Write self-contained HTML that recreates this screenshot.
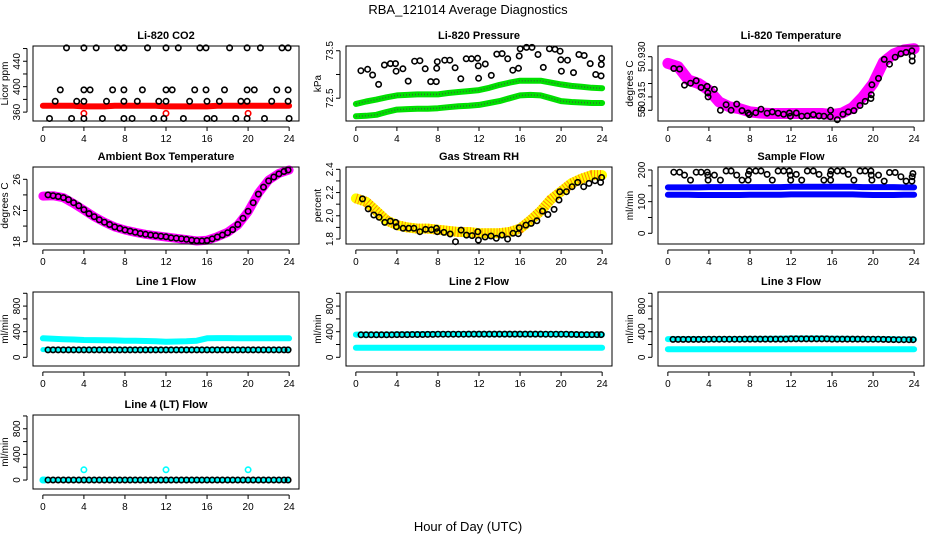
<!DOCTYPE html>
<html><head><meta charset="utf-8"><style>
html,body{margin:0;padding:0;background:#fff;}
svg{display:block;font-family:"Liberation Sans",sans-serif;}
</style></head><body>
<svg id="c" width="936" height="540" viewBox="0 0 936 540" xmlns="http://www.w3.org/2000/svg">
<text x="468" y="14" text-anchor="middle" font-size="13">RBA_121014  Average Diagnostics</text>
<text x="468" y="531" text-anchor="middle" font-size="13">Hour of Day (UTC)</text>
</svg>
<script>
// ---------- data ----------
const xTicks=[0,4,8,12,16,20,24];
const hrs=[0,1,2,3,4,5,6,7,8,9,10,11,12,13,14,15,16,17,18,19,20,21,22,23,24];
const half=[0.5,1,1.5,2,2.5,3,3.5,4,4.5,5,5.5,6,6.5,7,7.5,8,8.5,9,9.5,10,10.5,11,11.5,12,12.5,13,13.5,14,14.5,15,15.5,16,16.5,17,17.5,18,18.5,19,19.5,20,20.5,21,21.5,22,22.5,23,23.5,23.9];

// CO2
const co2H=[2.3,4.0,5.2,7.3,7.9,10.2,12.0,13.2,15.3,15.9,18.2,19.9,21.2,23.3,23.9, 1.7,4.0,4.6,6.8,7.9,9.7,12.0,12.6,14.8,15.9,17.7,19.9,20.6,22.8,23.9, 1.2,3.3,4.0,6.2,7.9,9.2,11.3,12.0,14.3,16.0,17.2,19.3,19.9,22.3,23.9, 0.65,2.8,4.0,5.8,7.9,8.7,10.8,11.8,13.7,16,16.7,18.8,19.9,21.6,24];
const co2V=[461,461,461,461,461,461,461,461,461,461,461,461,461,461,461, 395,395,395,395,395,395,395,395,395,395,395,395,395,395,395, 377,377,377,377,377,377,377,377,377,377,377,377,377,377,377, 350,350,350,350,350,350,350,350,350,350,350,350,350,350,350];
const co2Red=[370,370,370,370,369,369,369,370,370,370,370,370,369,369,369,369,369,370,370,370,370,370,370,370,370];
const co2OutH=[4,12,20];
const co2OutV=[358,358,358];

// Pressure
const prH=[0.49,1.14,1.63,2.22,2.78,3.37,3.86,3.92,4.58,5.10,5.72,6.24,6.76,7.29,7.84,7.88,7.94,8.66,9.15,9.67,10.23,10.75,11.27,11.86,11.93,11.96,12.61,13.20,13.73,14.25,14.80,15.29,15.85,15.92,16.01,16.63,17.16,17.75,18.27,18.86,19.41,19.90,19.97,20.03,20.62,21.21,21.73,22.25,22.84,23.37,23.9,23.92,23.95];
const prV=[73.08,73.11,72.99,72.79,73.20,73.23,73.23,73.07,73.12,72.86,73.28,73.29,73.12,72.85,72.85,73.13,73.27,73.30,73.30,73.14,72.91,73.33,73.33,73.34,73.18,72.92,73.22,72.98,73.43,73.44,73.33,73.09,73.13,73.39,73.54,73.57,73.57,73.42,73.15,73.54,73.53,73.49,73.31,73.07,73.30,73.04,73.42,73.40,73.23,73.00,72.97,73.21,73.34];
const prUp=[72.38,72.43,72.47,72.52,72.56,72.57,72.58,72.58,72.58,72.61,72.63,72.65,72.67,72.72,72.78,72.83,72.87,72.87,72.87,72.83,72.79,72.76,72.74,72.72,72.71];
const prLo=[72.12,72.13,72.15,72.21,72.26,72.27,72.28,72.28,72.29,72.31,72.33,72.34,72.36,72.40,72.44,72.50,72.56,72.57,72.56,72.50,72.44,72.42,72.41,72.40,72.40];

// Li-820 temperature
const ltH=[0.58,1.14,1.62,2.21,2.76,3.24,3.83,3.89,3.92,4.54,5.12,5.68,6.16,6.71,7.23,7.82,7.95,8.56,9.08,9.67,10.18,10.74,11.29,11.84,11.94,12.52,13.04,13.59,14.17,14.73,15.21,15.86,15.83,16.51,17.06,17.58,18.13,18.72,19.23,19.79,19.82,19.88,20.53,21.08,21.60,22.15,22.71,23.22,23.78,23.81,23.81];
const ltV=[50.9256,50.9254,50.9194,50.9201,50.9210,50.9185,50.9189,50.9165,50.9150,50.9178,50.9100,50.9121,50.9100,50.9123,50.9099,50.9090,50.9084,50.9091,50.9104,50.9089,50.9094,50.9089,50.9085,50.9090,50.9078,50.9090,50.9078,50.9079,50.9084,50.9079,50.9078,50.9100,50.9076,50.9065,50.9085,50.9094,50.9099,50.9118,50.9133,50.9144,50.9158,50.9195,50.9219,50.9290,50.9272,50.9298,50.9311,50.9316,50.9322,50.9302,50.9284];
const ltBand=[50.9275,50.9263,50.9213,50.9200,50.9175,50.9131,50.9113,50.9106,50.9094,50.9090,50.9088,50.9088,50.9088,50.9088,50.9088,50.9088,50.9084,50.9090,50.9110,50.9150,50.9200,50.9280,50.9310,50.9325,50.9330];

// Ambient
const ambBand=[23.85,23.9,23.64,22.9,22.06,21.2,20.5,19.9,19.5,19.2,18.94,18.77,18.6,18.43,18.26,18.09,18.17,18.64,19.2,20.14,21.85,24.2,25.9,26.76,27.2];
const ambV=[24.0,23.9,23.8,23.65,23.4,23.0,22.6,22.1,21.6,21.2,20.8,20.5,20.2,19.9,19.7,19.5,19.35,19.2,19.05,18.95,18.85,18.78,18.7,18.62,18.5,18.45,18.38,18.3,18.2,18.12,18.1,18.15,18.35,18.6,18.85,19.15,19.55,20.2,21.0,21.9,23.0,24.1,25.0,25.8,26.3,26.7,27.0,27.2];

// RH
const rhH=[0.65,1.2,1.75,2.27,2.82,3.37,3.88,3.95,4.6,5.15,5.66,6.24,6.8,7.35,7.86,7.93,8.58,9.19,9.71,10.26,10.78,11.33,11.88,11.94,12.59,13.17,13.69,14.24,14.79,15.31,15.83,15.92,16.57,17.09,17.64,18.19,18.71,19.32,19.8,19.87,20.52,21.07,21.62,22.2,22.72,23.3,23.85,23.95];
const rhV=[2.145,2.059,2.007,1.987,1.943,1.954,1.943,1.906,1.892,1.892,1.892,1.863,1.883,1.880,1.892,1.863,1.857,1.843,1.777,1.877,1.834,1.829,1.863,1.791,1.817,1.826,1.806,1.834,1.800,1.849,1.846,1.897,1.920,1.934,1.957,2.040,2.011,2.055,2.136,2.207,2.207,2.250,2.287,2.250,2.279,2.302,2.287,2.330];
const rhBand=[2.15,2.12,2.04,1.96,1.92,1.90,1.89,1.89,1.88,1.87,1.86,1.86,1.85,1.85,1.85,1.86,1.89,1.96,2.04,2.14,2.21,2.28,2.32,2.35,2.35];

// Sample flow
const sfH=[0.58,1.14,1.62,2.21,2.76,3.24,3.83,3.89,3.92,4.54,5.12,5.68,6.16,6.71,7.23,7.82,7.85,7.95,8.56,9.08,9.67,10.18,10.74,11.29,11.84,11.94,11.97,12.52,13.04,13.59,14.17,14.73,15.21,15.86,15.83,15.9,16.51,17.06,17.58,18.13,18.72,19.23,19.79,19.82,19.88,20.53,21.08,21.60,22.15,22.71,23.22,23.78,23.81,23.88];
const sfV=[193,193,184,168,193,193,193,184,168,184,168,197,197,184,168,168,186,197,197,197,186,168,197,197,197,184,168,186,168,197,197,186,168,168,186,197,197,197,186,168,197,197,197,184,168,184,165,192,192,179,165,165,179,189];
const sfUp=[145,145,145,145,146,146,146,146,146,146,146,146,147,147,147,147,147,147,147,146,146,146,146,145,145];
const sfLo=[122,122,122,121,121,121,121,121,122,122,122,122,123,123,123,123,123,123,123,122,121,121,121,122,122];

// Line flows
const l1Up=[296,290,282,278,270,268,266,264,260,258,254,250,244,246,250,260,296,300,300,298,296,296,298,298,296];
const l1Lo=[120,118,118,118,118,118,118,118,118,118,118,118,118,118,118,120,122,120,120,120,118,118,118,118,118];
const l1V=[115,115,115,115,115,115,115,115,115,115,115,115,115,115,115,115,115,115,115,115,115,115,115,115,115,115,115,115,115,115,115,115,115,115,115,115,115,115,115,115,115,115,115,115,115,115,115,115];
const l2Up=[355,355,355,355,357,358,360,362,362,362,362,362,362,362,362,362,362,362,362,362,362,358,355,355,355];
const l2Lo=[150,150,148,148,150,150,150,150,150,150,150,150,150,150,150,150,150,150,150,150,150,150,148,150,150];
const l2V=[352,352,352,352,352,352,352,355,355,355,356,356,356,358,358,360,360,360,360,360,360,362,362,362,362,362,362,362,362,362,362,362,362,362,362,362,360,360,360,360,360,358,356,355,355,355,355,355];
const l3Up=[285,285,285,285,285,285,285,285,288,288,290,292,295,295,295,295,292,290,288,285,285,285,282,280,280];
const l3Lo=[125,125,125,125,125,125,125,125,125,125,125,125,125,125,125,125,125,125,125,125,125,125,125,125,125];
const l3V=[280,280,280,280,280,280,280,282,282,282,282,282,282,282,285,285,285,285,285,285,285,285,285,288,288,288,288,288,288,288,288,285,285,285,285,285,285,285,282,282,282,280,278,276,275,275,275,275];
const l4V=[0,0,0,0,0,0,0,0,0,0,0,0,0,0,0,0,0,0,0,0,0,0,0,0,0,0,0,0,0,0,0,0,0,0,0,0,0,0,0,0,0,0,0,0,0,0,0,0];
const l4Band=[0,0,0,0,0,0,0,0,0,0,0,0,0,0,0,0,0,0,0,0,0,0,0,0,0];
const l4OutH=[0,0.15,4,12,20];
const l4OutV=[0,0,160,160,160];

// ---------- drawing ----------
const svg=document.getElementById('c');
const NS='http://www.w3.org/2000/svg';
const cols=[33,346,658], W=266;
const rows=[[46,121],[167,244],[292,366],[415,489]];
function mk(tag,attrs,parent){const e=document.createElementNS(NS,tag);for(const k in attrs)e.setAttribute(k,attrs[k]);(parent||svg).appendChild(e);return e;}

function panel(name,c,r,title,ylab,dmin,dmax,ticks,labels){
  const g=mk('g',{});
  
  
  const L=cols[c],R=L+W,T=rows[r][0],B=rows[r][1];
  const sx=h=>L+(h+0.96)/25.92*W;
  const sy=v=>T+(dmax-v)/(dmax-dmin)*(B-T);
  const t=mk('text',{x:(L+R)/2,y:T-7,'text-anchor':'middle','font-size':11,'font-weight':'bold'},g);
  t.textContent=title;
  
  
  const plot=mk('g',{},g);
  
  
  const box=mk('rect',{x:L,y:T,width:W,height:B-T,fill:'none',stroke:'#000','stroke-width':1},g);
  
  
  const xa=mk('g',{},g);
  
  
  mk('line',{x1:sx(xTicks[0]),x2:sx(xTicks[xTicks.length-1]),y1:B+6,y2:B+6,stroke:'#000'},xa);
  xTicks.forEach(v=>{
    mk('line',{x1:sx(v),x2:sx(v),y1:B+6,y2:B+10,stroke:'#000'},xa);
    const tl=mk('text',{x:sx(v),y:B+21,'text-anchor':'middle','font-size':10},xa);
    tl.textContent=v;
    
    
  });
  const ya=mk('g',{},g);
  
  
  mk('line',{x1:L-6,x2:L-6,y1:sy(ticks[0]),y2:sy(ticks[ticks.length-1]),stroke:'#000'},ya);
  ticks.forEach((v,i)=>{
    mk('line',{x1:L-10,x2:L-6,y1:sy(v),y2:sy(v),stroke:'#000'},ya);
    if(labels[i]!==''){
      const yl=mk('text',{x:0,y:0,'text-anchor':'middle','font-size':10,transform:`translate(${L-13},${sy(v)}) rotate(-90)`},ya);
      yl.textContent=labels[i];
      
      
    }
  });
  const yt=mk('text',{x:0,y:0,'text-anchor':'middle','font-size':10,transform:`translate(${L-25},${(T+B)/2}) rotate(-90)`},g);
  yt.textContent=ylab;
  
  
  return {sx,sy,plot};
}
function band(p,hs,vs,color,w,name,dash){
  const pts=hs.map((h,i)=>p.sx(h).toFixed(1)+','+p.sy(vs[i]).toFixed(1)).join(' ');
  const a={points:pts,fill:'none',stroke:color,'stroke-width':w,'stroke-linejoin':'round','stroke-linecap':'round'};
  if(dash){a['stroke-dasharray']=dash;a['stroke-linecap']='butt';}
  const e=mk('polyline',a,p.plot);
  
  
}
function pts(p,hs,vs,color,name,rad){
  const g=mk('g',{},p.plot);
  
  
  hs.forEach((h,i)=>{
    const e=mk('circle',{cx:p.sx(h).toFixed(1),cy:p.sy(vs[i]).toFixed(1),r:rad||2.7,fill:'none',stroke:color,'stroke-width':1.6},g);
    
    
  });
}

let p;
p=panel('co2-panel',0,0,'Li-820 CO2','Licor ppm',346,464,[360,380,400,420,440,460],['360','','400','','440','']);
band(p,hrs,co2Red,'#f00',6,'co2-red-series');
pts(p,co2OutH,co2OutV,'#f00','co2-red-outliers');
pts(p,co2H,co2V,'#000','co2-black-series');

p=panel('pressure-panel',1,0,'Li-820 Pressure','kPa',72.02,73.6,[72.5,73.0,73.5],['72.5','','73.5']);
band(p,hrs,prUp,'#00e000',6,'pressure-upper-band');
band(p,hrs,prLo,'#00e000',6,'pressure-lower-band');
band(p,hrs,prUp,'#307030',1.5,'pressure-upper-dots','1 2');
band(p,hrs,prLo,'#307030',1.5,'pressure-lower-dots','1 2');
pts(p,prH,prV,'#000','pressure-black-series');

p=panel('li820-temp-panel',2,0,'Li-820 Temperature','degrees C',50.906,50.934,[50.910,50.915,50.920,50.925,50.930],['50.','50.915','','','50.930']);
band(p,hrs,ltBand,'#f0f',11,'li820-temp-band');
pts(p,ltH,ltV,'#000','li820-temp-black-series');

p=panel('ambient-temp-panel',0,1,'Ambient Box Temperature','degrees C',17.7,27.58,[18,20,22,24,26],['18','','22','','26']);
band(p,hrs,ambBand,'#f0f',9,'ambient-band');
pts(p,half,ambV,'#000','ambient-black-series');

p=panel('rh-panel',1,1,'Gas Stream RH','percent',1.757,2.42,[1.8,1.9,2.0,2.1,2.2,2.3,2.4],['1.8','','2.0','','2.2','','2.4']);
band(p,hrs,rhBand,'#ff0',10,'rh-yellow-band');
band(p,hrs,rhBand,'#ff8c00',10,'rh-orange-band','1 2');
pts(p,rhH,rhV,'#000','rh-black-series');

p=panel('sample-flow-panel',2,1,'Sample Flow','ml/min',-33.8,209.5,[0,50,100,150,200],['0','','100','','200']);
band(p,hrs,sfUp,'#00f',6,'sample-flow-upper-band');
band(p,hrs,sfLo,'#00f',6,'sample-flow-lower-band');
pts(p,sfH,sfV,'#000','sample-flow-black-series');

const fT=[0,200,400,600,800,1000], fL=['0','','400','','800',''];
p=panel('line1-flow-panel',0,2,'Line 1 Flow','ml/min',-136,1020,fT,fL);
band(p,hrs,l1Up,'#0ff',6,'line1-upper-band');
band(p,hrs,l1Lo,'#0ff',5,'line1-lower-band');
pts(p,half,l1V,'#000','line1-black-series');

p=panel('line2-flow-panel',1,2,'Line 2 Flow','ml/min',-136,1020,fT,fL);
band(p,hrs,l2Up,'#0ff',6,'line2-upper-band');
band(p,hrs,l2Lo,'#0ff',6,'line2-lower-band');
pts(p,half,l2V,'#000','line2-black-series');

p=panel('line3-flow-panel',2,2,'Line 3 Flow','ml/min',-136,1020,fT,fL);
band(p,hrs,l3Up,'#0ff',6,'line3-upper-band');
band(p,hrs,l3Lo,'#0ff',6,'line3-lower-band');
pts(p,half,l3V,'#000','line3-black-series');

p=panel('line4-flow-panel',0,3,'Line 4 (LT) Flow','ml/min',-140,1015,fT,fL);
band(p,hrs,l4Band,'#0ff',4,'line4-band');
pts(p,l4OutH,l4OutV,'#0ff','line4-cyan-points');
pts(p,half,l4V,'#000','line4-black-series');
</script>
</body></html>
